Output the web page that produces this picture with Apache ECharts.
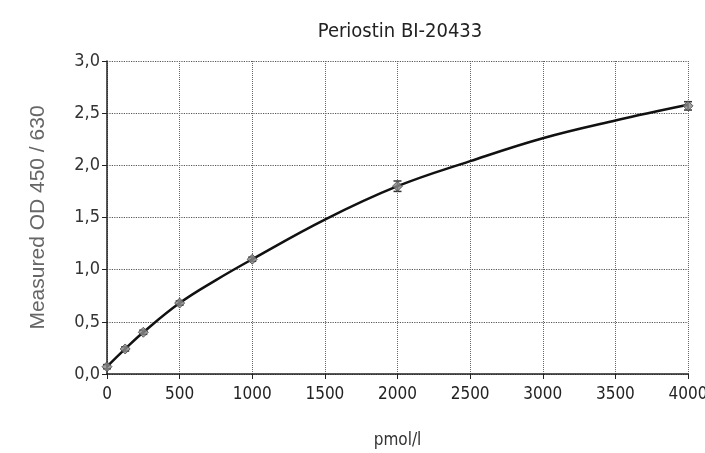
<!DOCTYPE html>
<html><head><meta charset="utf-8">
<script src="https://cdn.jsdelivr.net/npm/echarts@6/dist/echarts.min.js"></script>
<style>html,body{margin:0;padding:0;background:#fff}#c{width:705px;height:453px}</style>
</head><body><div id="c"></div>
<script>
// Standard points
const stdConc = [0, 125, 250, 500, 1000, 2000, 4000];
const stdOD = [0.07, 0.24, 0.40, 0.68, 1.10, 1.80, 2.57];
const errLow = [0.05, 0.22, 0.38, 0.66, 1.08, 1.75, 2.53];
const errHigh = [0.09, 0.26, 0.42, 0.70, 1.12, 1.85, 2.61];
// Fitted curve
const curveConc = [0, 125, 250, 500, 750, 1000, 1500, 2000, 2500, 3000, 3500, 4000];
const curveOD = [0.07, 0.24, 0.40, 0.68, 0.90, 1.10, 1.48, 1.80, 2.04, 2.26, 2.43, 2.58];
const titleText = 'Periostin BI-20433';
const xName = 'pmol/l';
const yName = 'Measured OD 450 / 630';

const narrow = "'Liberation Sans Narrow','DejaVu Sans Condensed','Liberation Sans',sans-serif";
const chart = echarts.init(document.getElementById('c'));
chart.setOption({
  animation: false,
  backgroundColor: '#fff',
  title: { text: titleText, left: 395, top: 17, textAlign: 'center',
    textStyle: { fontFamily: narrow, fontSize: 20, fontWeight: 'normal', color: '#222' } },
  grid: { left: 107, right: 17, top: 61, bottom: 79, containLabel: false, outerBoundsMode: 'none' },
  xAxis: { type: 'value', min: 0, max: 4000, interval: 500,
    name: xName, nameLocation: 'middle', nameGap: 58,
    nameTextStyle: { fontFamily: narrow, fontSize: 17, color: '#333' },
    axisLine: { show: true, lineStyle: { color: '#222', width: 1.5 } },
    axisTick: { show: true, length: 5, lineStyle: { color: '#222' } },
    axisLabel: { fontFamily: narrow, fontSize: 17, color: '#222', margin: 12,
      formatter: v => String(v) },
    splitLine: { show: true, lineStyle: { color: '#666', type: 'dotted', width: 1 } } },
  yAxis: { type: 'value', min: 0, max: 3, interval: 0.5,
    name: yName, nameLocation: 'middle', nameGap: 58,
    nameTextStyle: { fontFamily: "'Liberation Sans',Arial,sans-serif", fontSize: 21, color: '#666' },
    axisLine: { show: true, lineStyle: { color: '#222', width: 1.5 } },
    axisTick: { show: true, length: 5, lineStyle: { color: '#222' } },
    axisLabel: { fontFamily: narrow, fontSize: 18, color: '#333', margin: 7,
      formatter: v => v.toFixed(1).replace('.', ',') },
    splitLine: { show: true, lineStyle: { color: '#555', type: 'dotted', width: 1.2 } } },
  series: [
    { type: 'line', data: curveConc.map((x, i) => [x, curveOD[i]]), smooth: 0.4,
      showSymbol: false, lineStyle: { color: '#111', width: 2.5 }, z: 3 },
    { type: 'custom', z: 4,
      data: stdConc.map((x, i) => [x, errLow[i], errHigh[i]]),
      renderItem: function (params, api) {
        const lo = api.coord([api.value(0), api.value(1)]);
        const hi = api.coord([api.value(0), api.value(2)]);
        const w = 4;
        const st = { stroke: '#333', lineWidth: 1.5 };
        return { type: 'group', children: [
          { type: 'line', shape: { x1: lo[0], y1: lo[1], x2: hi[0], y2: hi[1] }, style: st },
          { type: 'line', shape: { x1: lo[0] - w, y1: lo[1], x2: lo[0] + w, y2: lo[1] }, style: st },
          { type: 'line', shape: { x1: hi[0] - w, y1: hi[1], x2: hi[0] + w, y2: hi[1] }, style: st }
        ] };
      } },
    { type: 'scatter', data: stdConc.map((x, i) => [x, stdOD[i]]), symbol: 'diamond', symbolSize: 10,
      itemStyle: { color: '#888', borderColor: '#444', borderWidth: 1 }, z: 5 }
  ]
});
</script></body></html>
